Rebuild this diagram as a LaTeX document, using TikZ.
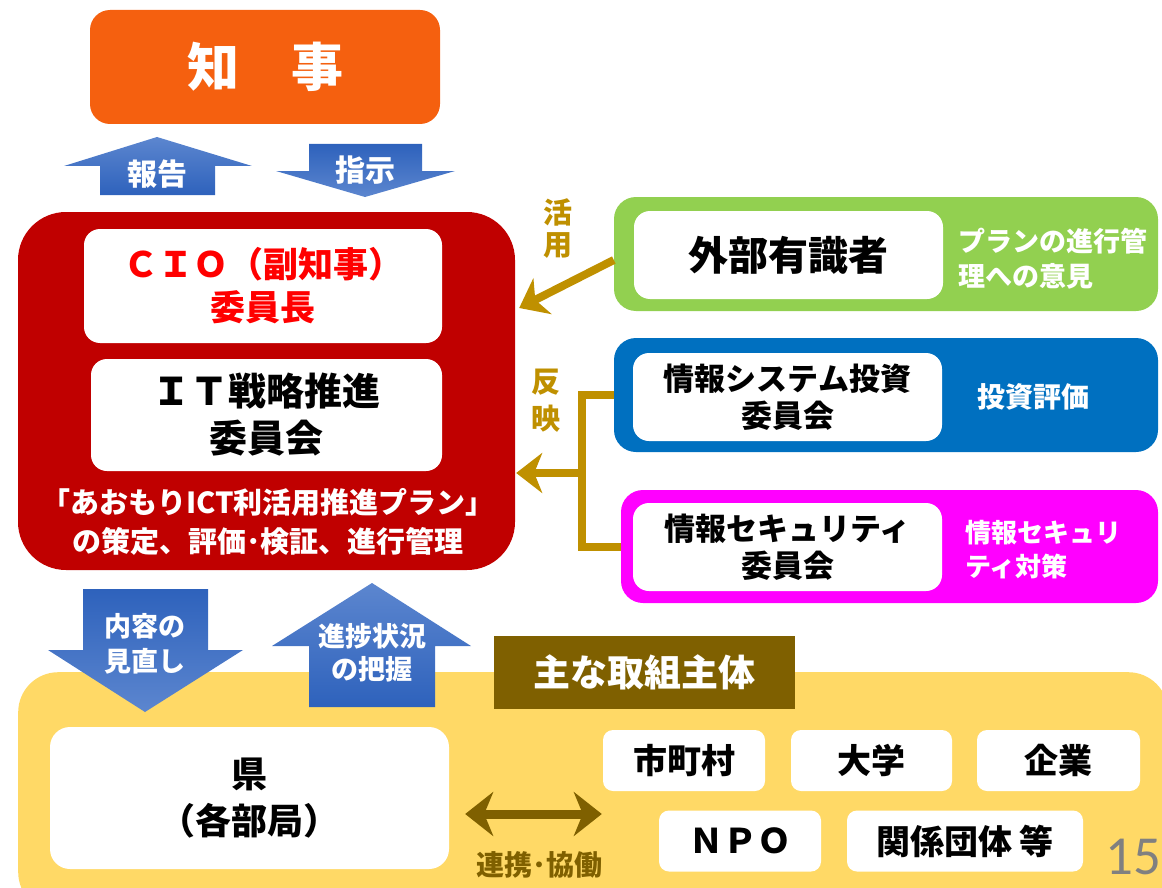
\documentclass[tikz,border=0pt]{standalone}
\usepackage{fontspec}
\setmainfont{Noto Sans CJK JP}
\newfontfamily\pagefont{Carlito}
\usetikzlibrary{arrows.meta,calc,positioning}
\definecolor{daidai}{RGB}{245,96,15}
\definecolor{akaiiro}{RGB}{192,0,0}
\definecolor{midori}{RGB}{146,208,80}
\definecolor{aoiro}{RGB}{0,112,192}
\definecolor{momoiro}{RGB}{255,0,255}
\definecolor{kiiro}{RGB}{255,217,102}
\definecolor{chairo}{RGB}{127,96,0}
\definecolor{kin}{RGB}{191,144,0}
\definecolor{aokoi}{RGB}{46,98,188}
\definecolor{aousu}{RGB}{92,134,207}
\definecolor{hainezumi}{RGB}{128,128,128}
\tikzset{
    >=Stealth,
    waku/.style={
           rectangle,
           inner sep=0pt,
           rounded corners=22pt},
    shirobako/.style={
           waku,
           fill=white,
           rounded corners=16pt,
           align=center},
    kobako/.style={
           shirobako,
           rounded corners=10pt,
           minimum height=61pt,
           font=\fontsize{34}{40}\selectfont\bfseries},
    moji/.style={
           inner sep=0pt,
           align=center},
    kinsen/.style={
           draw=kin,
           line width=8pt},
    kinya/.style={
           kinsen,
           -{Stealth[length=26pt,width=40pt,inset=8pt]}},
    renkei/.style={
           draw=chairo,
           line width=9pt,
           {Stealth[length=28pt,width=44pt,inset=9pt]}-{Stealth[length=28pt,width=44pt,inset=9pt]}},
    aoue/.style={top color=aousu, bottom color=aokoi},
    aoshita/.style={top color=aokoi, bottom color=aousu}
}
\begin{document}
\begin{tikzpicture}[x=1pt,y=-1pt]
          \useasboundingbox (0,0) rectangle (1162,888);
          \clip (0,0) rectangle (1162,888);
          % chiji
          \node[waku, fill=daidai, rounded corners=20pt, minimum width=350pt, minimum height=114pt, text=white, font=\fontsize{52}{60}\selectfont\bfseries] (chiji) at (265,67) {知　事};
          \shade[aoue] (157,137) -- (252,166) -- (215,166) -- (215,195) -- (100,195) -- (100,166) -- (64,166) -- cycle;
          \node[moji, text=white, font=\fontsize{30}{34}\selectfont\bfseries] (hokoku) at (157,174) {報告};
          \shade[aoshita] (309,144) -- (422,144) -- (422,171) -- (455,171) -- (365,197) -- (276,171) -- (309,171) -- cycle;
          \node[moji, text=white, font=\fontsize{30}{34}\selectfont\bfseries] (shiji) at (365,170) {指示};
          % iinkai
          \node[waku, fill=akaiiro, rounded corners=48pt, minimum width=497pt, minimum height=358pt] (iinkai) at (266.5,391) {};
          \node[shirobako, minimum width=358pt, minimum height=114pt, text=red, font=\fontsize{35}{43}\selectfont\bfseries] (cio) at (263,286) {ＣＩＯ（副知事）\\委員長};
          \node[shirobako, minimum width=351pt, minimum height=112pt, font=\fontsize{38}{47}\selectfont\bfseries] (suishin) at (266.5,415) {ＩＴ戦略推進\\委員会};
          \node[moji, text=white, font=\fontsize{29}{39}\selectfont\bfseries] (plan) at (268,522) {「あおもりICT利活用推進プラン」\\の策定、評価･検証、進行管理};
          % migi
          \node[waku, fill=midori, minimum width=544pt, minimum height=114pt] (gaibu) at (886,254) {};
          \node[shirobako, minimum width=309pt, minimum height=88pt, font=\fontsize{40}{46}\selectfont\bfseries] (yushiki) at (788.5,255) {外部有識者};
          \node[moji, align=left, text=white, font=\fontsize{27}{35}\selectfont\bfseries] (iken) at (1053,259) {プランの進行管\\理への意見};
          \node[waku, fill=aoiro, minimum width=544pt, minimum height=114pt] (toshi) at (886,395) {};
          \node[shirobako, minimum width=309pt, minimum height=88pt, font=\fontsize{31}{37}\selectfont\bfseries] (system) at (787.5,397) {情報システム投資\\委員会};
          \node[moji, text=white, font=\fontsize{28}{34}\selectfont\bfseries] (hyoka) at (1033,397) {投資評価};
          \node[waku, fill=momoiro, minimum width=537pt, minimum height=113pt] (security) at (889.5,546.5) {};
          \node[shirobako, minimum width=309pt, minimum height=88pt, font=\fontsize{31}{37}\selectfont\bfseries] (secinkai) at (787.5,547) {情報セキュリティ\\委員会};
          \node[moji, align=left, text=white, font=\fontsize{26}{34}\selectfont\bfseries] (taisaku) at (1043,550) {情報セキュリ\\ティ対策};
          \node[moji, text=kin, font=\fontsize{29}{32}\selectfont\bfseries] (katsuyo) at (558,229) {活\\用};
          \node[moji, text=kin, font=\fontsize{29}{37}\selectfont\bfseries] (hanei) at (546,401) {反\\映};
          \coordinate (bunki) at (582,473);
          \draw[kinya] ([yshift=-6pt]gaibu.west) -- ($(iinkai.east)+(4,-83)$);
          \draw[kinsen] (toshi.west) -| (bunki) |- (security.west);
          \draw[kinya] (bunki) -- ($(iinkai.east |- bunki)+(1,0)$);
          % torikumi
          \node[waku, fill=kiiro, rounded corners=40pt, minimum width=1150pt, minimum height=240pt, anchor=north west] (torikumi) at (18,672) {};
          \shade[aoshita] (83,589) -- (208,589) -- (208,650) -- (243,650) -- (145,712) -- (48,650) -- (83,650) -- cycle;
          \node[moji, text=white, font=\fontsize{27}{35}\selectfont\bfseries] (minaoshi) at (145,644) {内容の\\見直し};
          \shade[aoue] (372,583) -- (471,646) -- (435,646) -- (435,707) -- (309,707) -- (309,646) -- (272,646) -- cycle;
          \node[moji, text=white, font=\fontsize{27}{33}\selectfont\bfseries] (haaku) at (372,653) {進捗状況\\の把握};
          \node[waku, fill=chairo, rounded corners=0pt, minimum width=301pt, minimum height=73pt, text=white, font=\fontsize{37}{42}\selectfont\bfseries] (shutai) at (644.5,672.5) {主な取組主体};
          \node[shirobako, rounded corners=20pt, minimum width=399pt, minimum height=142pt, font=\fontsize{36}{47}\selectfont\bfseries] (ken) at (249.5,798) {県\\（各部局）};
          \node[kobako, minimum width=162pt] (shichoson) at (684,760.5) {市町村};
          \node[kobako, minimum width=161pt] (daigaku) at (871.5,760.5) {大学};
          \node[kobako, minimum width=163pt] (kigyo) at (1058.5,760.5) {企業};
          \node[kobako, minimum width=162pt] (npo) at (740,841) {ＮＰＯ};
          \node[kobako, minimum width=236pt] (kankei) at (965,841) {関係団体 等};
          \draw[renkei] ($(ken.east)+(16,16)$) -- ($(ken.east -| shichoson.west)+(-1,16)$);
          \node[moji, text=chairo, font=\fontsize{28}{30}\selectfont\bfseries] (kyodo) at (539,865) {連携･協働};
          \node[moji, text=hainezumi, font=\pagefont\fontsize{55}{60}\selectfont] (page) at (1133,857) {15};
\end{tikzpicture}
\end{document}
